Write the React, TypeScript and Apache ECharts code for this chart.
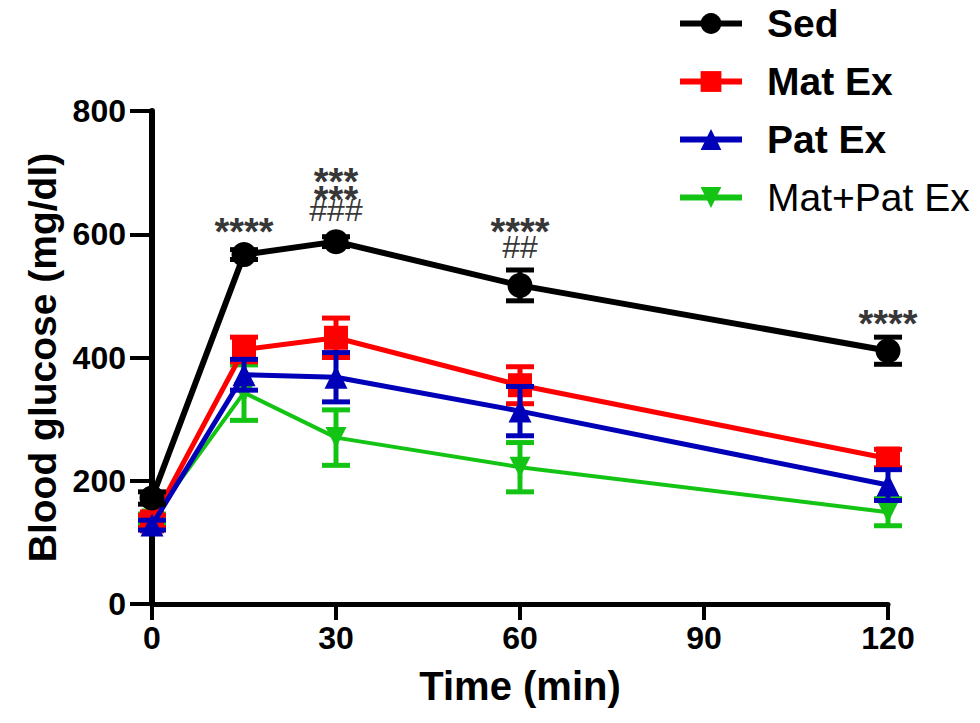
import React, { useEffect, useRef } from "react";
import * as echarts from "echarts";

const times = [0, 15, 30, 60, 120];
const xTicks = [0, 30, 60, 90, 120];
const yTicks = [0, 200, 400, 600, 800];

const seriesNames = ["Sed", "Mat Ex", "Pat Ex", "Mat+Pat Ex"];
const sedMean = [172, 567, 588, 517, 411];
const sedErr = [10, 8, 8, 25, 22];
const matMean = [134, 413, 432, 355, 236];
const matErr = [10, 20, 32, 30, 15];
const patMean = [128, 372, 368, 313, 193];
const patErr = [8, 25, 40, 40, 25];
const comboMean = [138, 343, 270, 222, 149];
const comboErr = [8, 45, 45, 40, 22];

const annotTimes = [15, 30, 30, 30, 60, 60, 120];
const annotValues = [604, 684, 655, 639, 604, 580, 454];
const annotTexts = ["****", "***", "***", "###", "****", "##", "****"];

const FONT = "'Liberation Sans', Arial, Helvetica, sans-serif";

export default function App() {
  const ref = useRef<HTMLDivElement>(null);
  useEffect(() => {
    if (!ref.current) return;
    const chart = echarts.init(ref.current, null, { renderer: "svg" });

    const defs = [
      { name: seriesNames[0], mean: sedMean, err: sedErr, color: "#000000", symbol: "circle", size: 25, width: 6, rotate: 0, z: 5 },
      { name: seriesNames[1], mean: matMean, err: matErr, color: "#ff0000", symbol: "rect", size: 24, width: 5, rotate: 0, z: 3 },
      { name: seriesNames[2], mean: patMean, err: patErr, color: "#0000b8", symbol: "triangle", size: 23, width: 5, rotate: 0, z: 4 },
      { name: seriesNames[3], mean: comboMean, err: comboErr, color: "#14c414", symbol: "triangle", size: 21, width: 4, rotate: 180, z: 2 },
    ];

    const series: any[] = [];
    defs.forEach((d) => {
      series.push({
        name: d.name + " SEM",
        type: "custom",
        z: d.z,
        silent: true,
        data: times.map((t, i) => [t, d.mean[i] - d.err[i], d.mean[i] + d.err[i]]),
        renderItem: (params: any, api: any) => {
          const x = api.value(0);
          const top = api.coord([x, api.value(2)]);
          const bot = api.coord([x, api.value(1)]);
          const hw = 14;
          const style = { stroke: d.color, lineWidth: 5 };
          return {
            type: "group",
            children: [
              { type: "line", shape: { x1: top[0], y1: top[1], x2: bot[0], y2: bot[1] }, style },
              { type: "line", shape: { x1: top[0] - hw, y1: top[1], x2: top[0] + hw, y2: top[1] }, style },
              { type: "line", shape: { x1: bot[0] - hw, y1: bot[1], x2: bot[0] + hw, y2: bot[1] }, style },
            ],
          };
        },
      });
      series.push({
        name: d.name,
        type: "line",
        z: d.z,
        data: times.map((t, i) => [t, d.mean[i]]),
        symbol: d.symbol,
        symbolSize: d.size,
        symbolRotate: d.rotate,
        showSymbol: true,
        lineStyle: { color: d.color, width: d.width },
        itemStyle: { color: d.color },
      });
    });

    series.push({
      name: "annotations",
      type: "scatter",
      z: 10,
      symbolSize: 0,
      silent: true,
      data: annotTimes.map((t, i) => ({
        name: annotTexts[i],
        value: [t, annotValues[i]],
        label: annotTexts[i].includes("#") ? { fontSize: 32, fontWeight: "normal", lineHeight: 13 } : undefined,
      })),
      label: {
        show: true,
        position: "inside",
        formatter: "{b}",
        color: "#000",
        fontFamily: FONT,
        fontSize: 38,
        fontWeight: "bold",
        lineHeight: 11,
      },
    });

    const option: any = {
      animation: false,
      backgroundColor: "#ffffff",
      grid: { left: 152, right: 92, top: 111, bottom: 119 },
      legend: {
        data: defs.map((d) => ({ name: d.name, lineStyle: { width: 6, color: d.color }, itemStyle: { color: d.color } })),
        orient: "vertical",
        left: 672,
        top: -1,
        itemWidth: 62,
        itemHeight: 26,
        itemGap: 19,
        formatter: (name: string) => (name === "Mat+Pat Ex" ? `{n|${name}}` : `{b|${name}}`),
        textStyle: {
          fontFamily: FONT,
          rich: {
            b: { fontFamily: FONT, fontSize: 39, fontWeight: "bold", color: "#000", lineHeight: 38, padding: [0, 0, 0, 20] },
            n: { fontFamily: FONT, fontSize: 39, fontWeight: "normal", color: "#000", lineHeight: 38, padding: [0, 0, 0, 20] },
          },
        },
      },
      xAxis: {
        type: "value",
        min: xTicks[0],
        max: xTicks[xTicks.length - 1],
        interval: 30,
        name: "Time (min)",
        nameLocation: "middle",
        nameGap: 62,
        nameTextStyle: { fontFamily: FONT, fontSize: 40, fontWeight: "bold", color: "#000" },
        axisLine: { show: true, onZero: false, lineStyle: { color: "#000", width: 5 } },
        axisTick: { show: true, length: 16, lineStyle: { color: "#000", width: 4 } },
        axisLabel: { fontFamily: FONT, fontSize: 32, fontWeight: "bold", color: "#000", margin: 18 },
        splitLine: { show: false },
      },
      yAxis: {
        type: "value",
        min: yTicks[0],
        max: yTicks[yTicks.length - 1],
        interval: 200,
        name: "Blood glucose (mg/dl)",
        nameLocation: "middle",
        nameGap: 88,
        nameTextStyle: { fontFamily: FONT, fontSize: 39, fontWeight: "bold", color: "#000" },
        axisLine: { show: true, lineStyle: { color: "#000", width: 6 } },
        axisTick: { show: true, length: 22, lineStyle: { color: "#000", width: 4 } },
        axisLabel: { fontFamily: FONT, fontSize: 32, fontWeight: "bold", color: "#000", margin: 26 },
        splitLine: { show: false },
      },
      series,
    };
    chart.setOption(option);
    return () => chart.dispose();
  }, []);
  return <div ref={ref} style={{ position: "absolute", left: 0, top: 0, width: 980, height: 723 }} />;
}
